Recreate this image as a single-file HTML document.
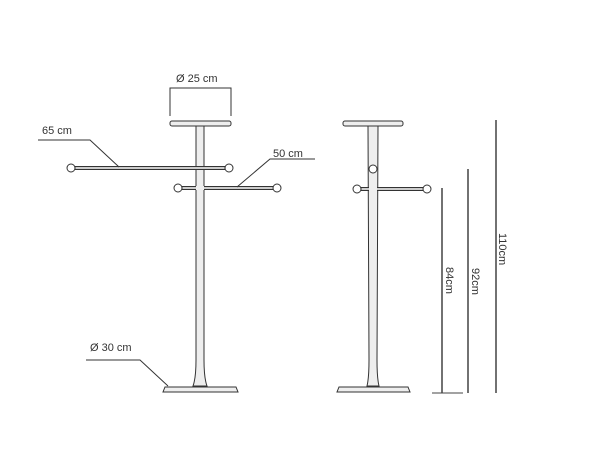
<!DOCTYPE html>
<html><head><style>
html,body{margin:0;padding:0;background:#fff;width:601px;height:473px;overflow:hidden}
svg text{font-family:"Liberation Sans",sans-serif;font-size:11px;fill:#333}
</style></head><body>
<svg width="601" height="473" viewBox="0 0 601 473">
<g stroke="#333" stroke-width="1" fill="none">
<!-- left stand -->
<path d="M170 116 V88 H231 V116"/>
<rect x="170" y="121" width="61" height="5" rx="2" fill="#eee"/>
<path d="M196 126 L196 360 Q196 378 193 386 L207 386 Q204 378 204 360 L204 126 Z" fill="#eee"/>
<path d="M165 387 L236 387 L238 392 L163 392 Z" fill="#eee"/>
<rect x="75" y="166.5" width="150" height="3" fill="#ccc"/>
<circle cx="71" cy="168" r="4" fill="#fff"/>
<circle cx="229" cy="168" r="4" fill="#fff"/>
<rect x="182" y="186.5" width="92" height="3" fill="#ccc"/>
<rect x="196" y="186" width="8" height="4" fill="#eee" stroke="none"/>
<circle cx="178" cy="188" r="4" fill="#fff"/>
<circle cx="277" cy="188" r="4" fill="#fff"/>
<path d="M38 140 H90 L119 167"/>
<path d="M315 159 H270 L237 187"/>
<path d="M86 360 H140 L168 386"/>
<!-- right stand -->
<rect x="343" y="121" width="60" height="5" rx="2" fill="#eee"/>
<path d="M368 126 L369 360 Q369 378 367 386 L379 386 Q377 378 377 360 L378 126 Z" fill="#eee"/>
<path d="M339 387 L408 387 L410 392 L337 392 Z" fill="#eee"/>
<rect x="361" y="187.5" width="63" height="3" fill="#ccc"/>
<rect x="369" y="187" width="8" height="4" fill="#eee" stroke="none"/>
<circle cx="357" cy="189" r="4" fill="#fff"/>
<circle cx="427" cy="189" r="4" fill="#fff"/>
<circle cx="373" cy="169" r="4" fill="#fff"/>
</g>
<g stroke="#444" stroke-width="1.5">
<line x1="442" y1="188" x2="442" y2="393"/>
<line x1="468" y1="169" x2="468" y2="393"/>
<line x1="496" y1="120" x2="496" y2="393"/>
<line x1="432" y1="393" x2="463" y2="393" stroke-width="1"/>
</g>
<text x="176" y="82">Ø 25 cm</text>
<text x="42" y="134">65 cm</text>
<text x="273" y="157">50 cm</text>
<text x="90" y="351">Ø 30 cm</text>
<text transform="translate(446,267) rotate(90)">84cm</text>
<text transform="translate(472,268) rotate(90)">92cm</text>
<text transform="translate(499,233) rotate(90)">110cm</text>
</svg>
</body></html>
